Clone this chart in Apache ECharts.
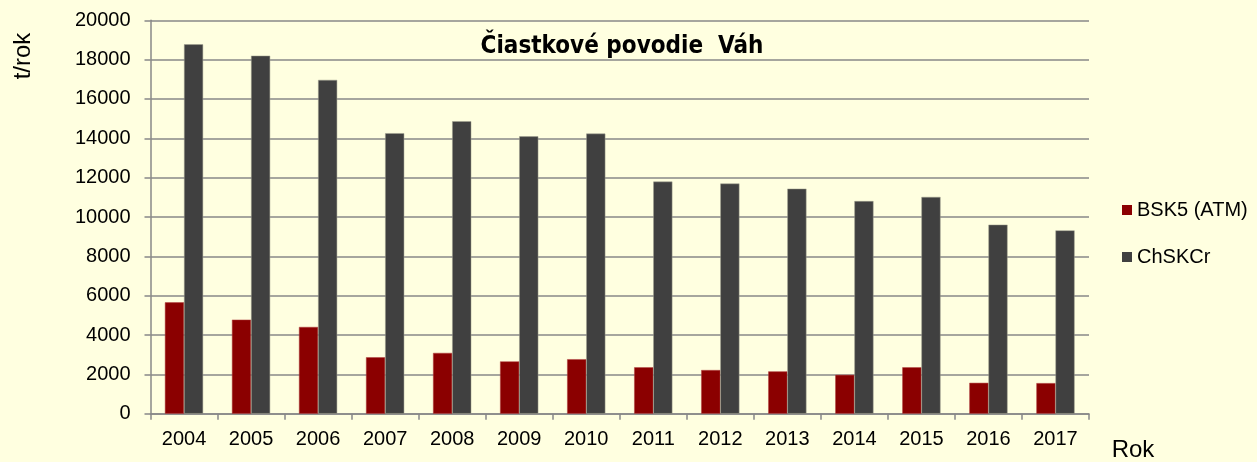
<!DOCTYPE html>
<html>
<head>
<meta charset="utf-8">
<script src="https://cdn.jsdelivr.net/npm/echarts@6/dist/echarts.min.js"></script>
<style>
html,body{margin:0;padding:0;background:#FFFFE0;}
#chart{width:1257px;height:462px;}
</style>
</head>
<body>
<div id="chart"></div>
<script>
const years = ['2004','2005','2006','2007','2008','2009','2010','2011','2012','2013','2014','2015','2016','2017'];
const bsk5 = [5660, 4780, 4410, 2870, 3090, 2660, 2770, 2360, 2220, 2150, 1975, 2360, 1570, 1555];
const chskcr = [18780, 18200, 16970, 14260, 14870, 14100, 14240, 11800, 11700, 11440, 10810, 11020, 9610, 9320];
const seriesNames = ['BSK5 (ATM)', 'ChSKCr'];
const titleText = 'Čiastkové povodie  Váh';
const yName = 't/rok';
const xName = 'Rok';

const chart = echarts.init(document.getElementById('chart'), null, {renderer: 'canvas'});
const font = 'Liberation Sans';
const gridCol = '#888888';
chart.setOption({
  backgroundColor: '#FFFFE0',
  animation: false,
  title: {
    text: titleText,
    left: 617,
    top: 30,
    textAlign: 'center',
    textStyle: {fontFamily: '"DejaVu Sans Condensed", "DejaVu Sans"', fontWeight: 'bold', fontSize: 24, color: '#000'}
  },
  legend: {
    orient: 'vertical',
    left: 1117,
    top: 195,
    itemWidth: 10,
    itemHeight: 10,
    itemGap: 27,
    icon: 'rect',
    itemStyle: {borderWidth: 0},
    textStyle: {fontFamily: font, fontSize: 20, color: '#000'},
    data: seriesNames
  },
  grid: {left: 150.5, right: 168, top: 20.3, bottom: 48.3, containLabel: false},
  xAxis: {
    type: 'category',
    data: years,
    axisLine: {lineStyle: {color: gridCol, width: 1.5}},
    axisTick: {show: true, length: 6, lineStyle: {color: gridCol, width: 1.5}},
    axisLabel: {fontFamily: font, fontSize: 20, color: '#000', margin: 16}
  },
  yAxis: {
    type: 'value',
    min: 0, max: 20000, interval: 2000,
    axisLine: {show: true, lineStyle: {color: gridCol, width: 1.5}},
    axisTick: {show: true, length: 6, lineStyle: {color: gridCol, width: 1.5}},
    axisLabel: {fontFamily: font, fontSize: 20, color: '#000', margin: 20, formatter: function (v) { return String(v); }},
    splitLine: {show: true, lineStyle: {color: gridCol, width: 1.5}}
  },
  graphic: [
    {type: 'text', x: 23, y: 56, rotation: Math.PI/2,
     style: {text: yName, fontFamily: font, fontSize: 24, fill: '#000', textAlign: 'center', textVerticalAlign: 'middle'}},
    {type: 'text', x: 1133, y: 450,
     style: {text: xName, fontFamily: font, fontSize: 24, fill: '#000', textAlign: 'center', textVerticalAlign: 'middle'}}
  ],
  series: [
    {name: seriesNames[0], type: 'bar', data: bsk5, barGap: '0%', barCategoryGap: '43%',
     itemStyle: {color: '#8B0000', borderColor: '#b04040', borderWidth: 0.5}},
    {name: seriesNames[1], type: 'bar', data: chskcr, barGap: '0%', barCategoryGap: '43%',
     itemStyle: {color: '#404040', borderColor: '#a0a090', borderWidth: 0.5}}
  ]
});
</script>
</body>
</html>
